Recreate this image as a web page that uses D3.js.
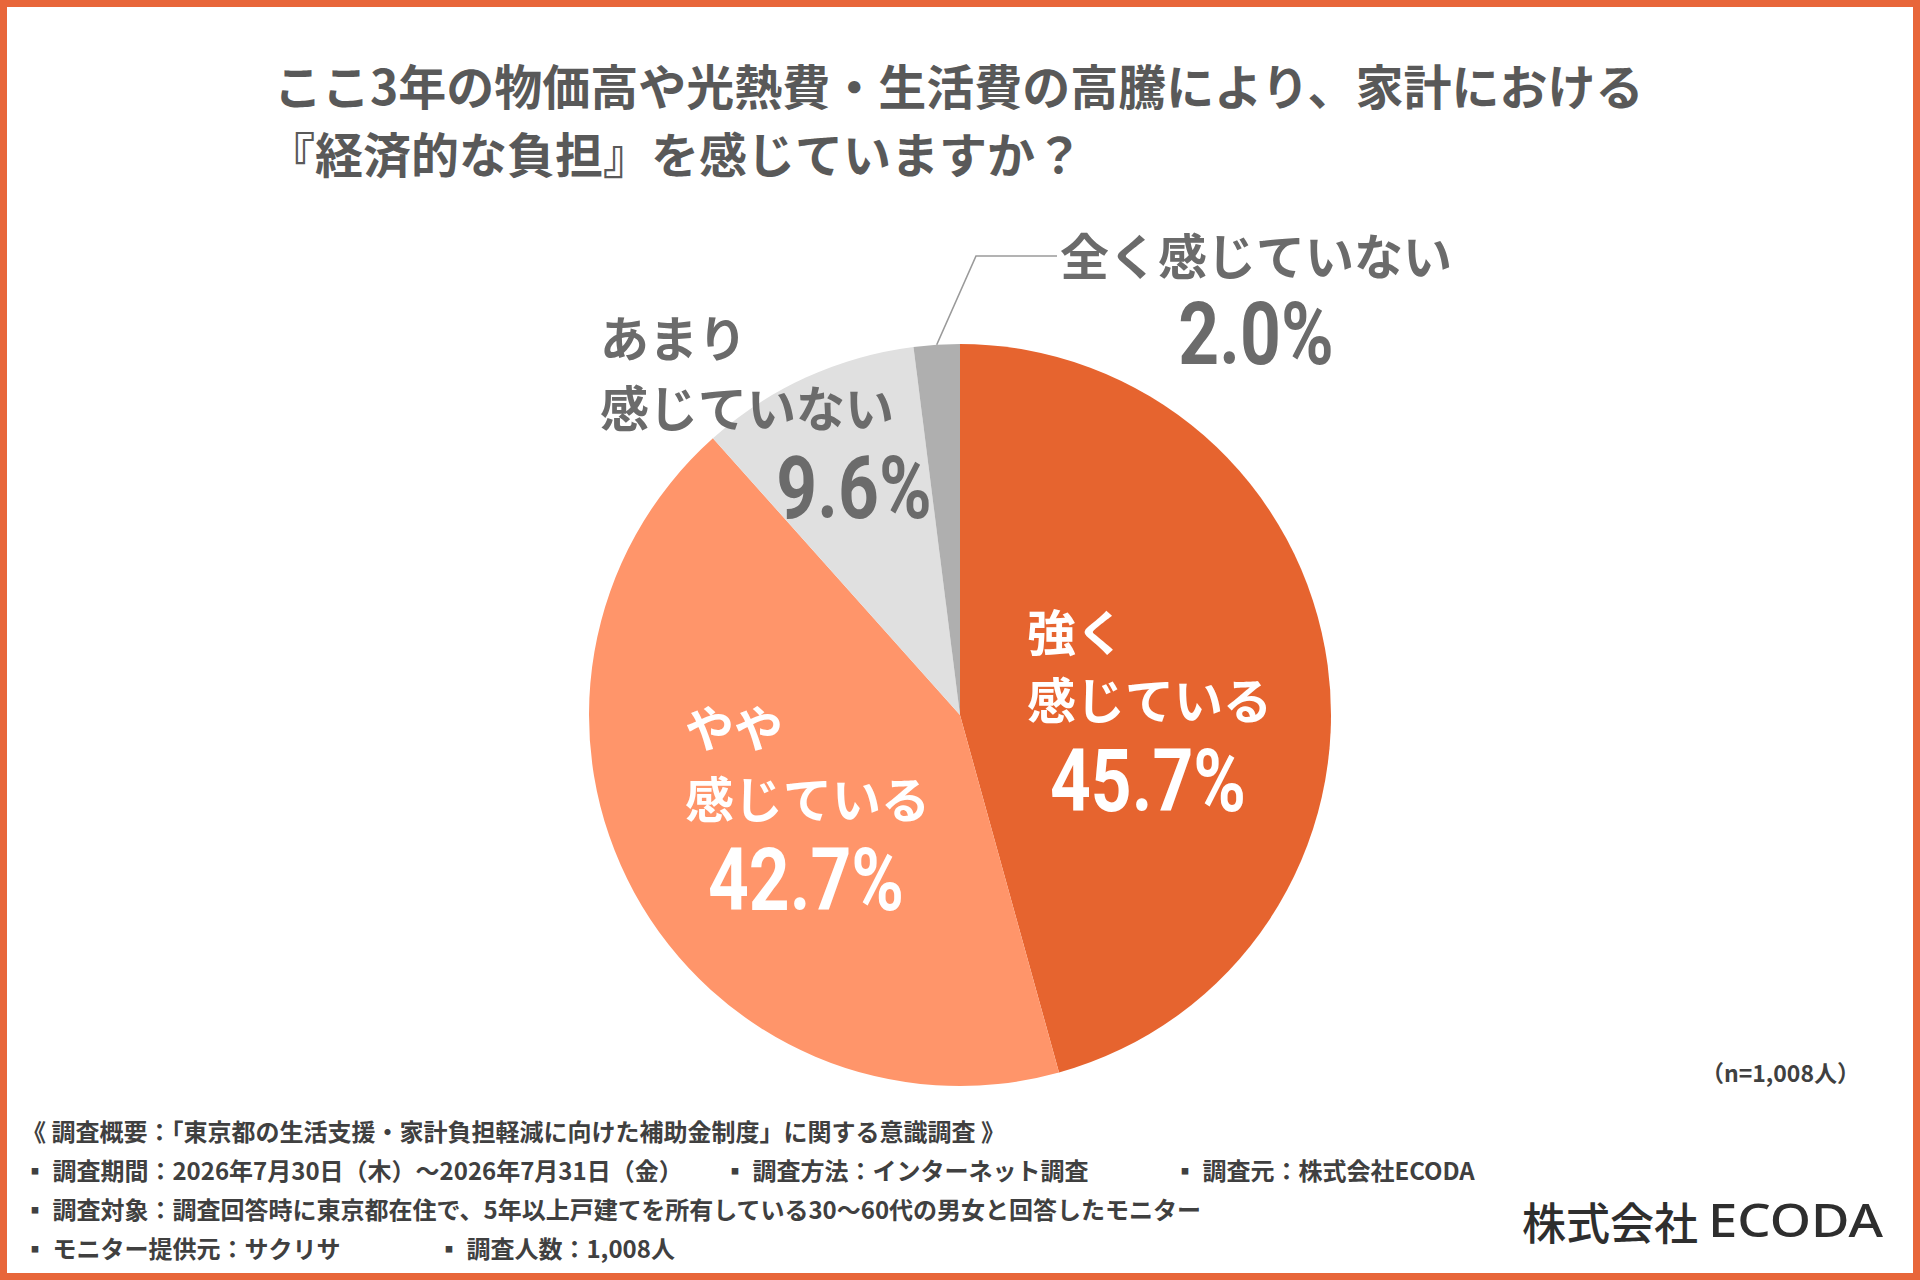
<!DOCTYPE html>
<html>
<head>
<meta charset="utf-8">
<script src="https://cdn.jsdelivr.net/npm/d3@7"></script>
<style>
  html, body { margin: 0; padding: 0; background: #ffffff; }
  svg { display: block; }
</style>
</head>
<body>
<svg id="chart" width="1920" height="1280"></svg>
<script>
// ---------- data ----------
const categories = ["強く感じている", "やや感じている", "あまり感じていない", "全く感じていない"];
const values = [45.7, 42.7, 9.6, 2.0];
const labelLines = [["強く", "感じている"], ["やや", "感じている"], ["あまり", "感じていない"], ["全く感じていない"]];
const sliceColors = ["#E6642F", "#FF956A", "#E0E0E0", "#AFAFAF"];
const titleLines = ["ここ3年の物価高や光熱費・生活費の高騰により、家計における", "『経済的な負担』を感じていますか？"];
const sampleNote = "（n=1,008人）";
const footerLines = [
  ["《 調査概要：「東京都の生活支援・家計負担軽減に向けた補助金制度」に関する意識調査 》"],
  ["▪ 調査期間：2026年7月30日（木）～2026年7月31日（金）", "▪ 調査方法：インターネット調査", "▪ 調査元：株式会社ECODA"],
  ["▪ 調査対象：調査回答時に東京都在住で、5年以上戸建てを所有している30～60代の男女と回答したモニター"],
  ["▪ モニター提供元：サクリサ", "▪ 調査人数：1,008人"]
];
const logoJa = "株式会社";
const logoEn = "ECODA";

// ---------- layout ----------
const W = 1920, H = 1280;
const cx = 960, cy = 715, R = 371;
const JP = "'Noto Sans CJK JP', 'Noto Sans', sans-serif";
const NUM = "Roboto, 'Noto Sans', sans-serif";
const labelLayout = [
  { x: 1027, ys: [629, 697], pctX: 1148, pctY: 780, color: "#ffffff", anchor: "start" },
  { x: 685,  ys: [725, 796], pctX: 806,  pctY: 879, color: "#ffffff", anchor: "start" },
  { x: 600,  ys: [335, 405], pctX: 854,  pctY: 487, color: "#6b6b6b", anchor: "start" },
  { x: 1256, ys: [253],      pctX: 1256, pctY: 333, color: "#6b6b6b", anchor: "middle" }
];
const footerX = [[22], [23, 723, 1173], [23], [23, 437]];
const footerY = [1130, 1169, 1208, 1247];

const svg = d3.select("#chart");

// border
svg.append("rect")
  .attr("x", 3.5).attr("y", 3.5).attr("width", W - 7).attr("height", H - 7)
  .attr("fill", "#ffffff").attr("stroke", "#E8663A").attr("stroke-width", 7);

// title
svg.append("g").selectAll("text").data(titleLines).join("text")
  .attr("x", (d, i) => i === 0 ? 274 : 267)
  .attr("y", (d, i) => 84 + i * 68)
  .attr("dominant-baseline", "central")
  .attr("font-family", JP).attr("font-weight", 700).attr("font-size", 48)
  .attr("fill", "#595959")
  .text(d => d);

// pie
const pie = d3.pie().sort(null).value(d => d)(values);
const arc = d3.arc().innerRadius(0).outerRadius(R);
const gPie = svg.append("g").attr("transform", `translate(${cx},${cy})`);
gPie.selectAll("path").data(pie).join("path")
  .attr("d", arc)
  .attr("fill", (d, i) => sliceColors[i]);

// leader line for the small slice
{
  const s = pie[3];
  const mid = (s.startAngle + s.endAngle) / 2;
  const p0 = [cx + R * Math.sin(mid), cy - R * Math.cos(mid)];
  const bendX = 976, lineY = 256, endX = 1057;
  svg.append("path")
    .attr("d", d3.line()([p0, [bendX, lineY], [endX, lineY]]))
    .attr("fill", "none").attr("stroke", "#9a9a9a").attr("stroke-width", 1.6);
}

// labels
labelLayout.forEach((L, i) => {
  const g = svg.append("g");
  labelLines[i].forEach((line, j) => {
    g.append("text")
      .attr("x", L.x).attr("y", L.ys[j])
      .attr("text-anchor", L.anchor)
      .attr("dominant-baseline", "central")
      .attr("font-family", JP).attr("font-weight", 700).attr("font-size", 49)
      .attr("fill", L.color)
      .text(line);
  });
  const fs = 87;
  g.append("g")
    .attr("transform", `translate(${L.pctX},${L.pctY + 0.355 * fs}) scale(0.82,1)`)
    .append("text")
    .attr("text-anchor", "middle")
    .attr("font-family", NUM).attr("font-weight", 700).attr("font-size", fs)
    .attr("fill", L.color)
    .text(d3.format(".1f")(values[i]) + "%");
});

// sample size note
svg.append("text")
  .attr("x", 1860).attr("y", 1072)
  .attr("text-anchor", "end").attr("dominant-baseline", "central")
  .attr("font-family", JP).attr("font-weight", 700).attr("font-size", 23)
  .attr("fill", "#404040")
  .text(sampleNote);

// footer
footerLines.forEach((segs, i) => {
  segs.forEach((t, j) => {
    svg.append("text")
      .attr("x", footerX[i][j]).attr("y", footerY[i])
      .attr("dominant-baseline", "central")
      .attr("font-family", JP).attr("font-weight", 700).attr("font-size", 24)
      .attr("fill", "#404040")
      .text(t);
  });
});

// logo
svg.append("text")
  .attr("x", 1522).attr("y", 1221)
  .attr("dominant-baseline", "central")
  .attr("font-family", JP).attr("font-weight", 500).attr("font-size", 44)
  .attr("textLength", 176).attr("lengthAdjust", "spacingAndGlyphs")
  .attr("fill", "#2e2e2e")
  .text(logoJa);
svg.append("text")
  .attr("x", 1708).attr("y", 1237)
  .attr("font-family", "'Noto Sans', 'Liberation Sans', sans-serif").attr("font-weight", 500).attr("font-size", 45)
  .attr("textLength", 175).attr("lengthAdjust", "spacingAndGlyphs")
  .attr("fill", "#2e2e2e")
  .text(logoEn);
</script>
</body>
</html>
